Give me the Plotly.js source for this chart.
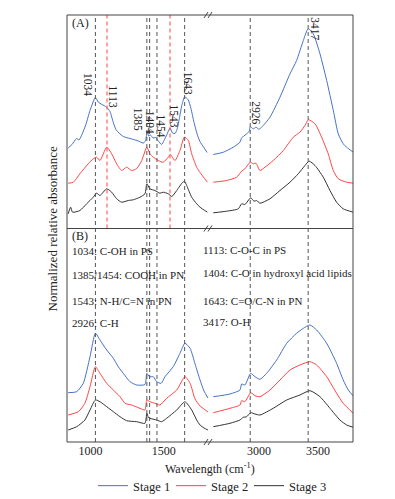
<!DOCTYPE html>
<html><head><meta charset="utf-8">
<script src="https://cdn.plot.ly/plotly-3.0.1.min.js"></script>
<style>html,body{margin:0;padding:0;background:#fff}#chart{width:395px;height:499px}</style>
</head><body><div id="chart"></div>
<script>
const stageNames = ['Stage 1', 'Stage 2', 'Stage 3'];
const stageColors = ['#4472C4', '#FF4444', '#333333'];

// Panel (A) spectra: wavenumber (cm-1) and normalized absorbance (offset, arbitrary units)
const aStage1Wn = [848,874,906,922,942,969,997,1034,1053,1079,1109,1133,1156,1174,1195,1224,1270,1318,1362,1376,1388,1397,1410,1427,1444,1461,1485,1502,1522,1543,1560,1577,1591,1608,1625,1643,1666,1686,1707,1727,1747,1772,1796,
  2613,2698,2782,2839,2853,2867,2896,2918,2926,2952,2975,3000,3023,3093,3178,3263,3319,3376,3417,3460,3517,3574,3630,3672,3714,3743,3799];
const aStage1Abs = [80.5,84,90,88.5,94,104,118,131,126.5,124,121.5,117,106,99,95.5,92,90,88,85.5,88,97.5,92.5,93.5,90.5,91,88,84,88,94,100.5,95.5,95,99,111,124,131.5,129,120,106,95,87,81.5,76,
  74,76.3,81.3,86.3,90.7,92,94.7,97.3,102,99.7,101.3,99.3,101.3,111.3,131.3,154.7,168,188,199.7,194.7,174.7,148,118,94.7,84.7,81.3,76.3];

const aStage2Wn = [848,883,928,985,1019,1042,1065,1111,1145,1179,1213,1247,1281,1316,1350,1385,1406,1429,1463,1497,1531,1545,1577,1611,1641,1668,1691,1725,1748,1798,
  2613,2726,2811,2853,2881,2926,2952,2975,3008,3051,3121,3206,3291,3347,3390,3419,3475,3531,3587,3630,3672,3743,3799];
const aStage2Abs = [45.3,46.3,54.7,64.7,69.7,71.3,68,81.3,74.7,64.7,58,61.3,58,60,68,81.3,74.7,71.3,68,66.3,71.3,74,68,78,91.3,88,74.7,61.3,56,46.3,
  46.3,48,51.3,57.3,59.7,66.3,64.7,65.3,58,61.3,68,78,91.3,96.3,103,108.7,104.7,91.3,74.7,58,49.7,46.3,45.3];

const aStage3Wn = [848,865,878,928,974,1019,1042,1065,1111,1145,1179,1213,1258,1292,1338,1372,1385,1406,1440,1474,1497,1531,1555,1589,1630,1643,1657,1691,1725,1748,1798,
  2613,2726,2825,2853,2881,2930,2958,2980,3008,3093,3178,3263,3333,3390,3426,3475,3545,3602,3658,3714,3799];
const aStage3Abs = [14.7,21.3,16.3,18,24.7,31.3,35.3,33,39.7,36.3,29.7,26.3,28,28.7,31.3,34.7,44.7,39.7,38,35.3,36.3,34.7,32,38,46.3,47,43,31.3,24.7,21.3,16.3,
  15.7,17.3,19.7,24.7,24,30.7,27.3,28,25.3,29.7,38,46.3,54.7,63,67.3,63,51.3,38,26.3,19.7,16.3];

// Panel (B) spectra
const bStage1Wn = [848,906,951,997,1034,1065,1111,1156,1190,1224,1270,1316,1372,1385,1402,1429,1452,1482,1509,1565,1611,1645,1680,1714,1748,1775,1802,
  2613,2754,2839,2853,2881,2930,2966,3008,3065,3150,3235,3319,3376,3432,3489,3574,3658,3714,3757,3799];
const bStage1Abs = [49.3,50.3,58.7,85.3,108.7,102,92,83.7,75.3,68.7,60.3,57,57.5,68.7,65.3,65.3,60.3,58.7,65.3,75.3,88.7,98.7,93.7,78,62,51,44,
  45.3,48,52,58,57,68.7,65.3,62.7,68.7,82,98.7,108.7,113.7,117,112,98.7,78.7,62,52,46];

const bStage2Wn = [848,917,962,997,1034,1065,1111,1156,1202,1236,1281,1338,1372,1385,1406,1440,1474,1520,1589,1645,1680,1714,1748,1775,1802,
  2613,2754,2839,2853,2881,2930,2966,3008,3093,3178,3263,3347,3432,3489,3574,3658,3714,3799];
const bStage2Abs = [27,30.3,38.7,55.3,75.3,68.7,58.7,52,45.3,38.7,37,33.7,32,42,40.3,38.7,37,43.7,52,65.3,58.7,43,36,33,30,
  29.3,33.7,37,41.3,40.3,49.3,46.3,45.3,52,62,72,77,80.3,77,65.3,48.7,38.7,28.7];

const bStage3Wn = [848,906,962,997,1034,1065,1111,1156,1202,1247,1316,1372,1385,1395,1406,1452,1486,1520,1589,1645,1691,1725,1748,1775,1802,
  2613,2754,2839,2867,2896,2930,2966,3008,3121,3235,3347,3432,3517,3602,3686,3743,3799];
const bStage3Abs = [12,15.3,22,32,42,40.3,35.3,30.3,25.3,21.3,20.3,18.7,28.7,24.7,23.7,22,20.3,23.7,32,40.3,32,22,17,14,12,
  15.3,18.7,22,24.7,25.3,29.3,28,27,33.7,42,47,51.3,45.3,33.7,22,17,14.7];

// Marked peaks
const greyPeaks = [1034, 1385, 1404, 1454, 1643, 2926, 3417];
const redPeaks = [1113, 1543];
const peakLabels = ['1034','1113','1385','1404','1454','1543','1643','2926','3417'];
const peakLabelWn = [1034,1113,1385,1404,1454,1543,1643,2926,3417];
const peakLabelY = [144,132,109,106,102,113,145,116,200];
const peakLabelShift = [-7,6,-8,1,5,4,4,6,7];

// Assignment notes in panel (B)
const notesLeft = ['1034: C-OH in PS','1385/1454: COOH in PN','1543: N-H/C=N in PN','2926: C-H'];
const notesRight = ['1113: C-O-C in PS','1404: C-O in hydroxyl acid lipids','1643: C=O/C-N in PN','3417: O-H'];

const seg1Ticks = [1000, 1500];
const seg2Ticks = [3000, 3500];
const BREAK = 2200;

const font = 'Times New Roman, Liberation Serif, serif';
const ink = '#222';

function splitSeg(wn, ab) {
  const s1 = {x: [], y: []}, s2 = {x: [], y: []};
  wn.forEach((w, i) => { const s = w < BREAK ? s1 : s2; s.x.push(w); s.y.push(ab[i]); });
  return [s1, s2];
}

const panels = [
  {yaxis: 'y2', series: [[aStage1Wn, aStage1Abs], [aStage2Wn, aStage2Abs], [aStage3Wn, aStage3Abs]]},
  {yaxis: 'y', series: [[bStage1Wn, bStage1Abs], [bStage2Wn, bStage2Abs], [bStage3Wn, bStage3Abs]]}
];

const traces = [];
panels.forEach((p, pi) => p.series.forEach((sr, si) => {
  splitSeg(sr[0], sr[1]).forEach((sg, gi) => traces.push({
    type: 'scatter', mode: 'lines', x: sg.x, y: sg.y,
    xaxis: gi ? 'x2' : 'x', yaxis: p.yaxis,
    name: stageNames[si], legendgroup: stageNames[si],
    showlegend: pi === 0 && gi === 0,
    line: {color: stageColors[si], width: 1, shape: 'spline', smoothing: 0.6},
    hoverinfo: 'skip'
  }));
}));

const shapes = [];
greyPeaks.forEach(w => shapes.push({type: 'line', xref: w < BREAK ? 'x' : 'x2', yref: 'paper',
  x0: w, x1: w, y0: 0, y1: 1, line: {color: '#555', width: 1, dash: '4px,3px'}, layer: 'above'}));
redPeaks.forEach(w => shapes.push({type: 'line', xref: 'x', yref: 'paper',
  x0: w, x1: w, y0: 0.5, y1: 1, line: {color: '#FF4444', width: 1, dash: '4px,3px'}, layer: 'above'}));
shapes.push({type: 'rect', xref: 'paper', yref: 'paper', x0: 0, x1: 1, y0: 0, y1: 1, line: {color: '#444', width: 1}});
shapes.push({type: 'line', xref: 'paper', yref: 'paper', x0: 0, x1: 1, y0: 0.5, y1: 0.5, line: {color: '#444', width: 1}});
[0, 0.5, 1].forEach(yy => [-4, 0].forEach(dx => shapes.push({
  type: 'line', xref: 'paper', yref: 'paper', xsizemode: 'pixel', ysizemode: 'pixel',
  xanchor: 0.5, yanchor: yy, x0: dx - 2, x1: dx + 2, y0: -3, y1: 3, line: {color: '#444', width: 1}
})));

const annotations = [];
peakLabels.forEach((t, i) => annotations.push({
  text: t, xref: peakLabelWn[i] < BREAK ? 'x' : 'x2', yref: 'y2', x: peakLabelWn[i], y: peakLabelY[i],
  xshift: peakLabelShift[i], textangle: 90, showarrow: false, font: {family: font, size: 11.5, color: ink}
}));
annotations.push({text: '(A)', xref: 'paper', yref: 'paper', x: 0.012, y: 0.981, xanchor: 'left', yanchor: 'middle', showarrow: false, font: {family: font, size: 12, color: ink}});
annotations.push({text: '(B)', xref: 'paper', yref: 'paper', x: 0.012, y: 0.4836, xanchor: 'left', yanchor: 'middle', showarrow: false, font: {family: font, size: 12, color: ink}});
const noteY = [0.447, 0.391, 0.330, 0.279];
const noteYR = [0.4485, 0.395, 0.330, 0.280];
notesLeft.forEach((t, i) => annotations.push({text: t, xref: 'paper', yref: 'paper', x: 0.012, y: noteY[i], xanchor: 'left', yanchor: 'middle', showarrow: false, font: {family: font, size: 11, color: ink}}));
notesRight.forEach((t, i) => annotations.push({text: t, xref: 'paper', yref: 'paper', x: 0.468, y: noteYR[i], xanchor: 'left', yanchor: 'middle', showarrow: false, font: {family: font, size: 11, color: ink}}));
annotations.push({text: 'Normalized relative absorbance', xref: 'paper', yref: 'paper', x: -0.049, y: 0.5, textangle: -90, xanchor: 'center', yanchor: 'middle', showarrow: false, font: {family: font, size: 13, color: ink}});
annotations.push({text: 'Wavelength (cm<sup>-1</sup>)', xref: 'paper', yref: 'paper', x: 0.5, y: -0.061, xanchor: 'center', yanchor: 'middle', showarrow: false, font: {family: font, size: 12, color: ink}});

const axBase = {showgrid: false, zeroline: false, showline: false, ticks: '', fixedrange: true, automargin: false};
const layout = {
  width: 395, height: 499,
  margin: {l: 67, r: 42, t: 15, b: 57, autoexpand: false},
  paper_bgcolor: '#fff', plot_bgcolor: '#fff',
  font: {family: font, size: 12, color: ink},
  showlegend: true,
  legend: {orientation: 'h', x: 0.5, xanchor: 'center', y: -0.068, yanchor: 'top', entrywidth: 33, entrywidthmode: 'pixels',
    font: {family: font, size: 12.5, color: ink}, bgcolor: 'rgba(0,0,0,0)'},
  xaxis: Object.assign({}, axBase, {domain: [0, 0.5], range: [840, 1816], tickvals: seg1Ticks, anchor: 'y', tickfont: {family: font, size: 12, color: ink}}),
  xaxis2: Object.assign({}, axBase, {domain: [0.5, 1], range: [2585, 3797], tickvals: seg2Ticks, anchor: 'y', tickfont: {family: font, size: 12, color: ink}}),
  yaxis: Object.assign({}, axBase, {domain: [0, 0.5], range: [0, 213.5], showticklabels: false}),
  yaxis2: Object.assign({}, axBase, {domain: [0.5, 1], range: [0, 213.5], showticklabels: false}),
  shapes: shapes,
  annotations: annotations
};

Plotly.newPlot('chart', traces, layout, {displayModeBar: false, staticPlot: true});
</script>
</body></html>
